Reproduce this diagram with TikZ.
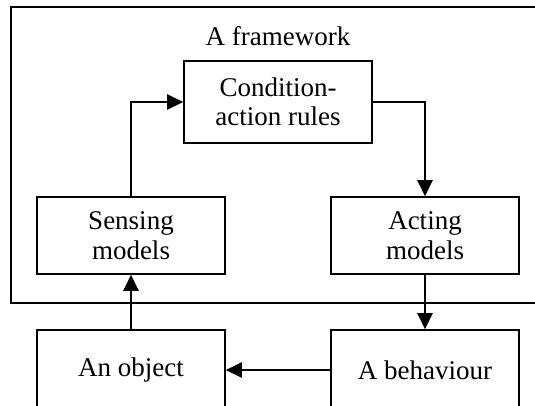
\documentclass[tikz,border=0pt]{standalone}
\usepackage{fontspec}
\setmainfont{Liberation Serif}
\usetikzlibrary{arrows.meta}
\begin{document}
\begin{tikzpicture}[x=1pt,y=-1pt,
  every node/.style={font=\fontsize{27}{29.5}\selectfont},
  box/.style={draw, line width=1.6pt, minimum width=188pt, align=center, inner sep=0pt},
  flow/.style={line width=2.5pt, -{Triangle[length=16pt,width=15pt]}}]
\useasboundingbox (0,0) rectangle (535,405);
\clip (0,0) rectangle (535,405);
% outer framework frame, running past the right edge
\node[draw, line width=1.6pt, minimum width=560pt, minimum height=296pt,
      anchor=north west, inner sep=0pt] (fw) at (10,6) {};
\node (fwlabel) at (278,36) {A framework};
% boxes inside the framework
\node[box, minimum height=82pt] (rules) at (278,102) {Condition-\\action rules};
\node[box, minimum height=77pt] (sense) at (131,235.5) {Sensing\\models};
\node[box, minimum height=77pt] (act) at (425,235.5) {Acting\\models};
% boxes outside the framework
\node[box, minimum height=80pt] (obj) at (131,370) {An object};
\node[box, minimum height=80pt] (beh) at (425,370) {A behaviour};
% connectors
\draw[flow] (sense.north) |- (rules.west);
\draw[flow] (rules.east) -| (act.north);
\draw[flow] (act.south) -- (beh.north);
\draw[flow] (beh.west) -- (obj.east);
\draw[flow] (obj.north) -- (sense.south);
\end{tikzpicture}
\end{document}
